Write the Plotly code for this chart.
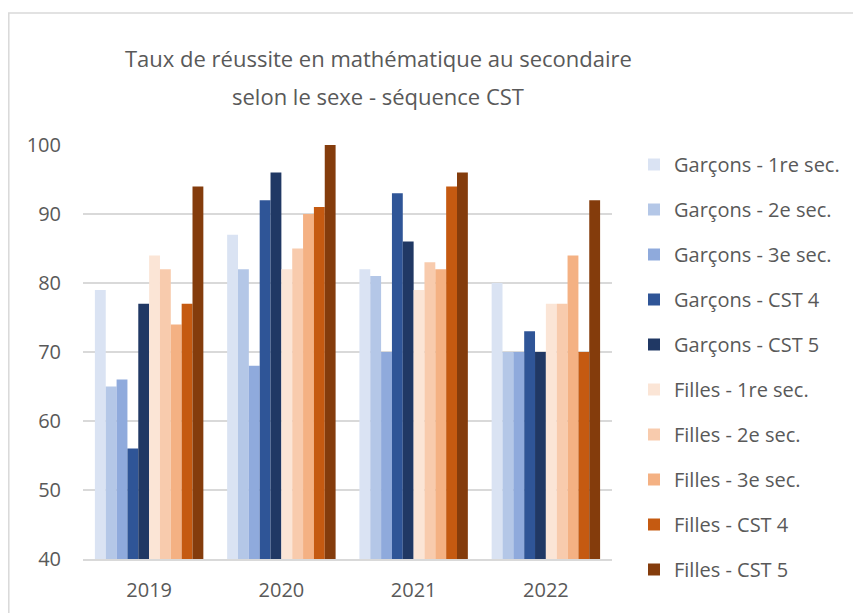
import plotly.graph_objects as go

years = ["2019", "2020", "2021", "2022"]
series_names = [
    "Garçons - 1re sec.", "Garçons - 2e sec.", "Garçons - 3e sec.",
    "Garçons - CST 4", "Garçons - CST 5",
    "Filles - 1re sec.", "Filles - 2e sec.", "Filles - 3e sec.",
    "Filles - CST 4", "Filles - CST 5",
]
garcons_1re = [79, 87, 82, 80]
garcons_2e = [65, 82, 81, 70]
garcons_3e = [66, 68, 70, 70]
garcons_cst4 = [56, 92, 93, 73]
garcons_cst5 = [77, 96, 86, 70]
filles_1re = [84, 82, 79, 77]
filles_2e = [82, 85, 83, 77]
filles_3e = [74, 90, 82, 84]
filles_cst4 = [77, 91, 94, 70]
filles_cst5 = [94, 100, 96, 92]
values = [garcons_1re, garcons_2e, garcons_3e, garcons_cst4, garcons_cst5,
          filles_1re, filles_2e, filles_3e, filles_cst4, filles_cst5]
colors = ["#DAE3F3", "#B4C7E7", "#8FAADC", "#2F5597", "#203864",
          "#FBE5D6", "#F8CBAD", "#F4B183", "#C55A11", "#843C0C"]
title_lines = ["Taux de réussite en mathématique au secondaire",
               "selon le sexe - séquence CST"]

fig = go.Figure()
for i, (name, vals, col) in enumerate(zip(series_names, values, colors)):
    fig.add_trace(go.Bar(x=years, y=vals, name=name, marker_color=col,
                         marker_line_width=0, legendgroup=f"g{i}"))

OFF = 8  # page body margin
W, H = 861 - OFF, 613 - OFF
L, R, T, B = 83 - OFF, 612 - OFF, 145 - OFF, 559 - OFF
PW, PH = R - L, B - T


def py(y):  # page pixel y -> paper coordinate
    return (B - (y - OFF)) / PH


def px(x):  # page pixel x -> paper coordinate
    return ((x - OFF) - L) / PW


fig.update_layout(
    width=W, height=H,
    margin=dict(l=L, r=W - R, t=T, b=H - B, autoexpand=False),
    paper_bgcolor="white", plot_bgcolor="white",
    barmode="group", bargap=0.18, bargroupgap=0,
    font=dict(family="Open Sans", color="#595959", size=20),
    legend=dict(xref="container", yref="container", x=(634 - OFF) / W, y=1 - (145 - OFF) / H,
                xanchor="left", yanchor="top", tracegroupgap=16, maxheight=1,
                font=dict(size=20, color="#595959"), itemwidth=30),
    showlegend=True,
    annotations=[
        dict(text=title_lines[0], x=px(378), y=py(58), xref="paper", yref="paper",
             xanchor="center", yanchor="middle", showarrow=False,
             font=dict(size=22, color="#595959")),
        dict(text=title_lines[1], x=px(378), y=py(96), xref="paper", yref="paper",
             xanchor="center", yanchor="middle", showarrow=False,
             font=dict(size=22, color="#595959")),
    ],
    shapes=[dict(type="rect", xref="paper", yref="paper",
                 x0=px(8.8), x1=px(859),
                 y0=py(640), y1=py(13),
                 line=dict(color="#D9D9D9", width=1.5), fillcolor="rgba(0,0,0,0)", layer="below")],
)
fig.update_yaxes(range=[40, 100], dtick=10, showgrid=True, gridcolor="#D9D9D9", gridwidth=1.5,
                 zeroline=False, showline=False, ticks="", tickfont=dict(size=20), ticklabelstandoff=21)
fig.update_xaxes(showgrid=False, showline=True, linecolor="#D9D9D9", linewidth=1.5,
                 ticks="", tickfont=dict(size=20), ticklabelstandoff=12)

fig.write_html("out.html")
